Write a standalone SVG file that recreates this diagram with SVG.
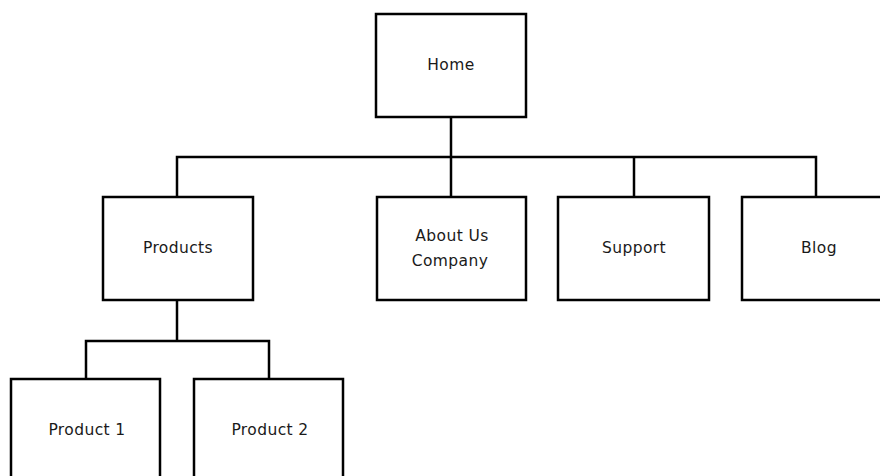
<svg xmlns="http://www.w3.org/2000/svg" width="880" height="476" viewBox="0 0 880 476">
<style>
.box{fill:#ffffff;stroke:#000000;stroke-width:2.5}
.lbl{font-family:"DejaVu Sans","Liberation Sans",sans-serif;font-size:15.5px;fill:#1a1a1a;text-anchor:middle;letter-spacing:0.4px}
.conn{fill:none;stroke:#000000;stroke-width:2.5}
</style>
<rect width="880" height="476" fill="#ffffff"/>
<g id="connectors">
<path class="conn" d="M451 117 V197"/>
<path class="conn" d="M177 197 V157 H816 V197"/>
<path class="conn" d="M634 157 V197"/>
<path class="conn" d="M177 300 V341"/>
<path class="conn" d="M86 379 V341 H269 V379"/>
</g>
<g id="home"><rect class="box" x="376" y="14" width="150" height="103"/><text class="lbl" x="451" y="70">Home</text></g>
<g id="products"><rect class="box" x="103" y="197" width="150" height="103"/><text class="lbl" x="178" y="253">Products</text></g>
<g id="about"><rect class="box" x="377" y="197" width="149" height="103"/><text class="lbl" x="452" y="241">About Us</text><text class="lbl" x="450" y="266">Company</text></g>
<g id="support"><rect class="box" x="558" y="197" width="151" height="103"/><text class="lbl" x="634" y="253">Support</text></g>
<g id="blog"><rect class="box" x="742" y="197" width="150" height="103"/><text class="lbl" x="819" y="253">Blog</text></g>
<g id="product1"><rect class="box" x="11" y="379" width="149" height="110"/><text class="lbl" x="87" y="435">Product 1</text></g>
<g id="product2"><rect class="box" x="194" y="379" width="149" height="110"/><text class="lbl" x="270" y="435">Product 2</text></g>
</svg>
